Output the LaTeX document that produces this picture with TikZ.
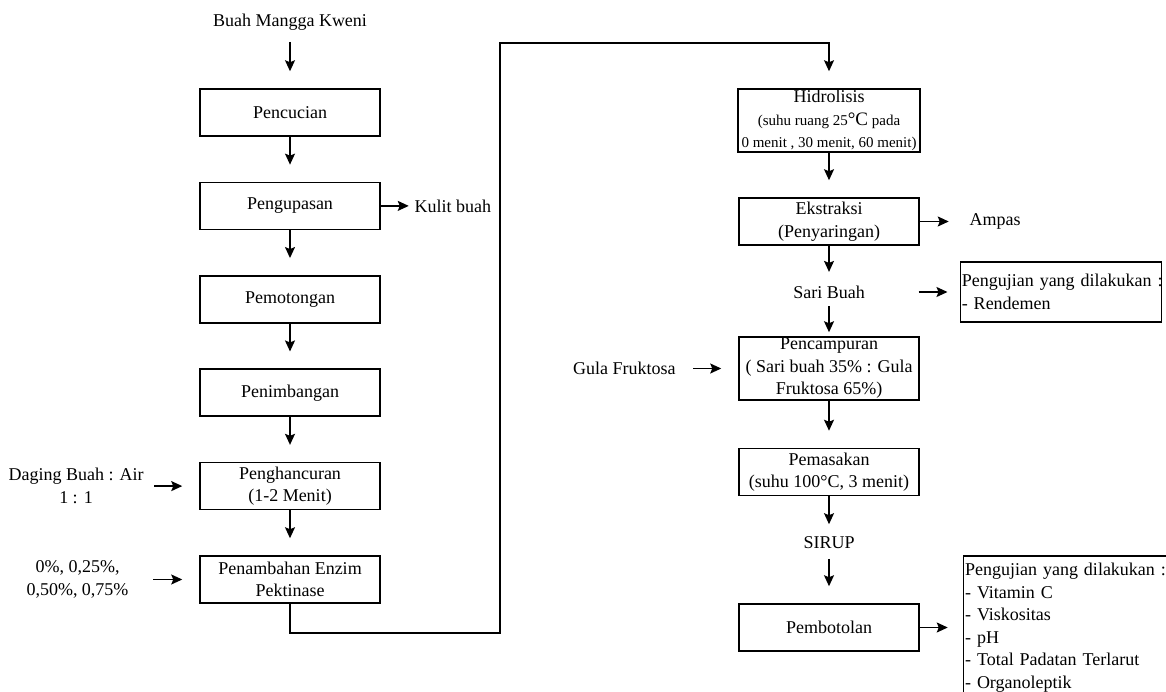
\documentclass[tikz,border=0pt]{standalone}
\usepackage{fontspec}
\setmainfont{Liberation Serif}
\usetikzlibrary{positioning,arrows.meta}

\begin{document}
\begin{tikzpicture}[->,>={Stealth[length=11pt,width=10pt,inset=2pt]},x=1pt,y=-1pt,
	line width=1.5pt,node distance=93.4pt,
	font=\fontsize{18}{22.5}\selectfont,
	box/.style={shape=rectangle, draw=black, minimum width=180pt, minimum height=47pt, align=center},
	tall/.style={box, minimum height=63pt, inner ysep=0pt},
	teks/.style={align=center, inner sep=3pt},
	uji/.style={shape=rectangle, draw=black, align=left, inner xsep=1.5pt, inner ysep=7pt},
	flow/.style={shorten >=17pt}];
	\useasboundingbox (0,0) rectangle (1166,692);
	\clip (0,0) rectangle (1166,692);

	\node[teks] (buah) at (290,22) {Buah Mangga Kweni};
	\node[box] (cuci) [below of=buah, node distance=90.5pt] {Pencucian};
	\node[box] (kupas) [below of=cuci] {Pengupasan};
	\node[box] (potong) [below of=kupas] {Pemotongan};
	\node[box] (timbang) [below of=potong] {Penimbangan};
	\node[box] (hancur) [below of=timbang] {Penghancuran\\(1-2 Menit)};
	\node[box] (enzim) [below of=hancur] {Penambahan Enzim\\Pektinase};

	\node[teks] (kulit) [right=30pt of kupas] {Kulit buah};
	\node[teks] (daging) [left=52pt of hancur] {Daging Buah : Air\\1 : 1};
	\node[teks] (persen) [left=67pt of enzim] {0\%, 0,25\%,\\0,50\%, 0,75\%};

	\node[tall] (hidro) at (829,120.5) {Hidrolisis\\{\fontsize{15}{22}\selectfont(suhu ruang 25{\fontsize{19}{22}\selectfont°C} pada}\\{\fontsize{15}{22}\selectfont 0 menit , 30 menit, 60 menit)}};
	\node[box] (ekstrak) [below of=hidro, node distance=101pt] {Ekstraksi\\(Penyaringan)};
	\node[teks] (sari) [below of=ekstrak, node distance=70.5pt] {Sari Buah};
	\node[tall] (campur) [below of=sari, node distance=76.5pt] {Pencampuran\\( Sari buah 35\% : Gula\\Fruktosa 65\%)};
	\node[box] (masak) [below of=campur, node distance=103.5pt] {Pemasakan\\(suhu 100°C, 3 menit)};
	\node[teks] (sirup) [below of=masak, node distance=71pt] {SIRUP};
	\node[box] (botol) [below of=sirup, node distance=84.5pt] {Pembotolan};

	\node[teks] (ampas) [right=46pt of ekstrak] {Ampas};
	\node[uji, text width=198pt, minimum height=60pt] (uji1) [right=91pt of sari] {\mbox{Pengujian yang dilakukan :}\\- Rendemen};
	\node[teks] (gula) [left=59pt of campur] {Gula Fruktosa};
	\node[uji, text width=207pt] (uji2) [right=43pt of botol] {\mbox{Pengujian yang dilakukan :}\\- Vitamin C\\- Viskositas\\- pH\\- Total Padatan Terlarut\\- Organoleptik};

	\coordinate (belok1) at (500,633);
	\coordinate (belok2) at (500,43);

	\path
	(buah) edge[shorten <=8pt, flow] (cuci)
	(cuci) edge[flow] (kupas)
	(kupas) edge[flow] (potong)
	(potong) edge[flow] (timbang)
	(timbang) edge[flow] (hancur)
	(hancur) edge[flow] (enzim)
	(kupas) edge[shorten >=2pt] (kulit)
	(daging) edge[shorten <=7pt, flow] (hancur)
	(persen) edge[shorten <=21pt, flow] (enzim)
	(hidro) edge[flow] (ekstrak)
	(ekstrak) edge[shorten >=10pt] (sari)
	(sari) edge[shorten <=4pt, shorten >=4pt] (campur)
	(campur) edge[flow] (masak)
	(masak) edge[shorten >=9pt] (sirup)
	(sirup) edge[shorten <=6pt, flow] (botol)
	(ekstrak) edge[flow] (ampas)
	(sari) edge[shorten <=50pt, shorten >=12pt] (uji1)
	(gula) edge[shorten <=14pt, flow] (campur)
	(botol) edge[shorten >=15pt] (uji2);
	\draw[flow] (enzim) |- (belok1) -- (belok2) -| (hidro);
\end{tikzpicture}
\end{document}
